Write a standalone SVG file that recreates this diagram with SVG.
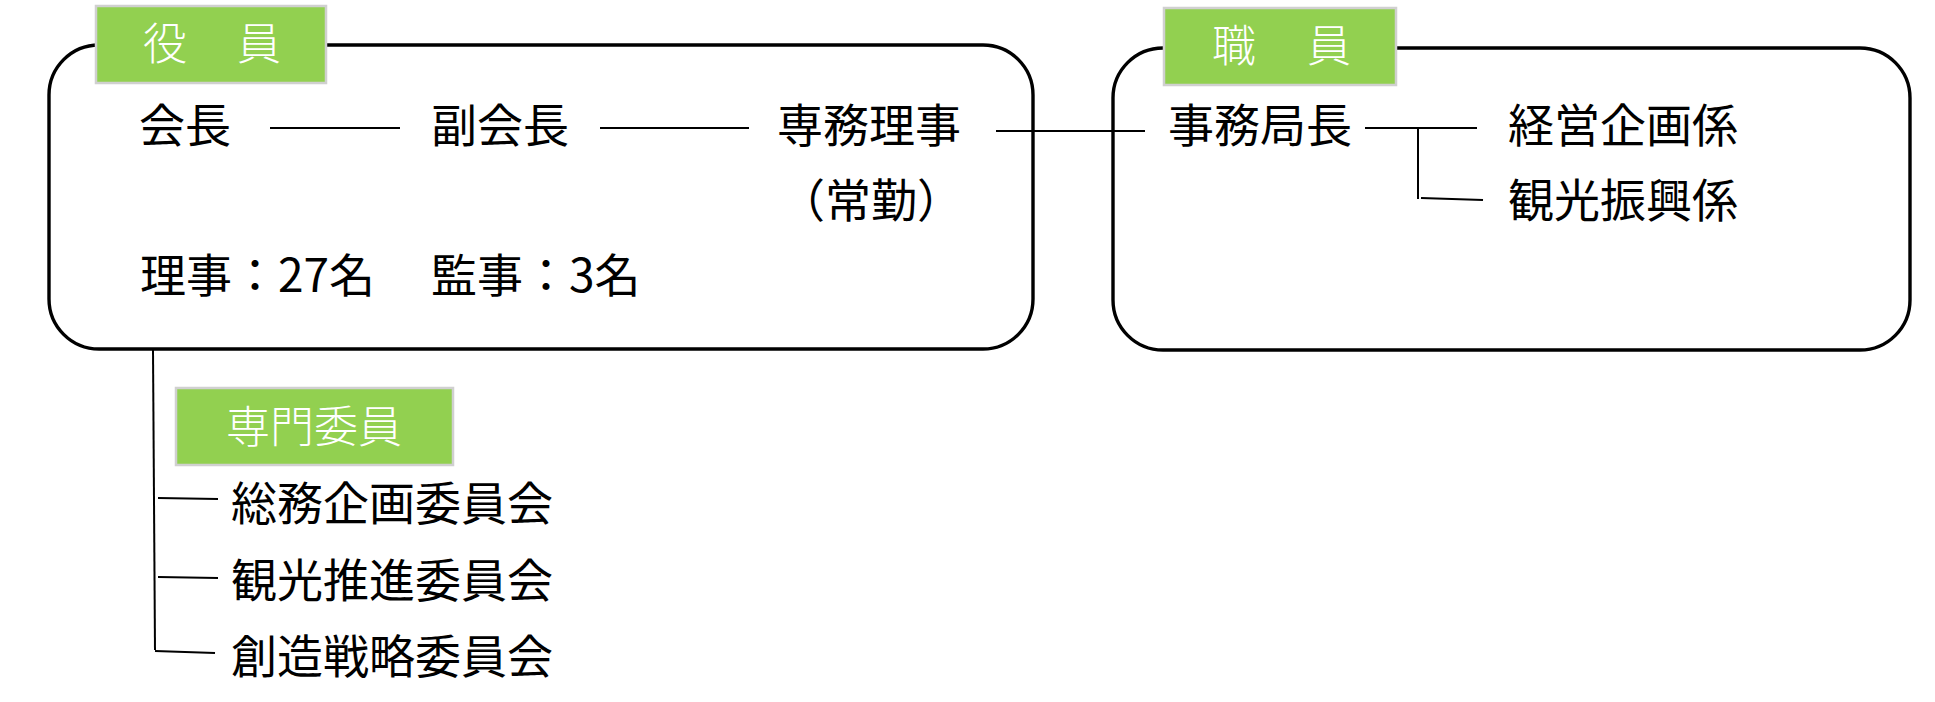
<svg xmlns="http://www.w3.org/2000/svg" width="1935" height="702" viewBox="0 0 1935 702">
<style>
.box{fill:#fff;stroke:#000;stroke-width:3.4}
.tag{fill:#92d050;stroke:#d0d0d0;stroke-width:2.5}
.tagt{font-family:"Noto Sans CJK JP","Noto Sans",sans-serif;font-size:44px;fill:#fff;font-weight:300}
.t{font-family:"Noto Sans CJK JP","Noto Sans",sans-serif;font-size:46px;fill:#000}
.c{font-size:46px}
.ln{stroke:#000;stroke-width:2;fill:none}
</style>
<rect width="1935" height="702" fill="#fff"/>
<g id="officers">
<rect class="box" x="49" y="45" width="984" height="304" rx="50" ry="50"/>
<rect class="tag" x="96" y="6" width="230" height="77"/>
<text class="tagt" x="143" y="60" letter-spacing="3">役　員</text>
<text class="t" x="139" y="142">会長</text>
<text class="t" x="431" y="142">副会長</text>
<text class="t" x="777" y="142">専務理事</text>
<text class="t" x="779" y="217">（常勤）</text>
<text class="t" x="140" y="292">理事：27名<tspan x="431">監事：3名</tspan></text>
</g>
<g id="staff">
<rect class="box" x="1113" y="48" width="797" height="302" rx="50" ry="50"/>
<rect class="tag" x="1164" y="8" width="232" height="77"/>
<text class="tagt" x="1212" y="62" letter-spacing="3.5">職　員</text>
<text class="t" x="1168" y="142">事務局長</text>
<text class="t" x="1508" y="142">経営企画係</text>
<text class="t" x="1508" y="217">観光振興係</text>
</g>
<g id="committees">
<rect class="tag" x="176" y="388" width="277" height="77"/>
<text class="tagt" x="226" y="443">専門委員</text>
<text class="t c" x="231" y="520">総務企画委員会</text>
<text class="t c" x="231" y="597">観光推進委員会</text>
<text class="t c" x="231" y="673">創造戦略委員会</text>
</g>
<g id="connectors">
<line class="ln" x1="270" y1="128" x2="400" y2="128"/>
<line class="ln" x1="600" y1="128" x2="749" y2="128"/>
<line class="ln" x1="996" y1="131" x2="1145" y2="131"/>
<line class="ln" x1="1365" y1="128" x2="1477" y2="128"/>
<line class="ln" x1="1418" y1="128" x2="1418" y2="199"/>
<line class="ln" x1="1421" y1="198" x2="1483" y2="200"/>
<line class="ln" x1="153" y1="350" x2="155" y2="650"/>
<line class="ln" x1="158" y1="498" x2="218" y2="499"/>
<line class="ln" x1="158" y1="577" x2="218" y2="578"/>
<line class="ln" x1="155" y1="651" x2="215" y2="653"/>
</g>
</svg>
